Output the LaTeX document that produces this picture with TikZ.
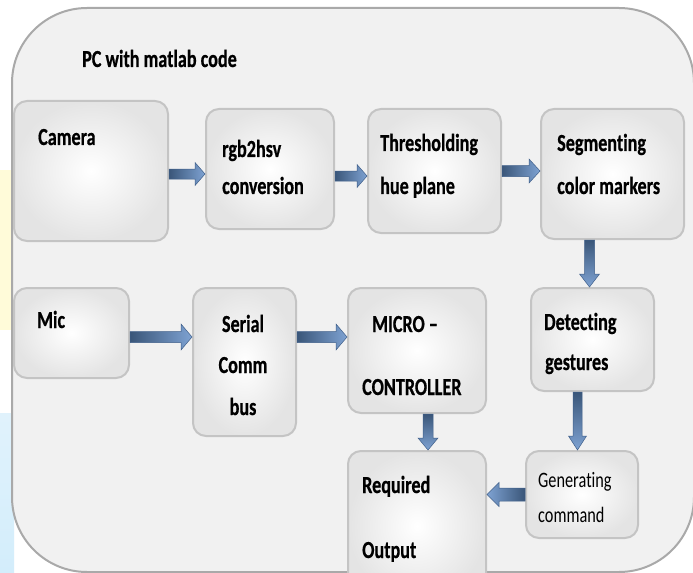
\documentclass[tikz,border=0pt]{standalone}
\usepackage{fontspec}
\setmainfont{Carlito}[FakeStretch=0.74, Ligatures={NoCommon}, BoldFeatures={FakeBold=0.6}]
\usetikzlibrary{calc}

\definecolor{framefill}{HTML}{F1F1F1}
\definecolor{frameline}{HTML}{A9A9A9}
\definecolor{boxline}{HTML}{C4C4C4}
\definecolor{boxouter}{HTML}{E4E4E4}
\definecolor{arrdark}{HTML}{3A5679}
\definecolor{arrlight}{HTML}{7EA2D2}
\definecolor{arredge}{HTML}{3F5F8A}
\definecolor{stripyellow}{HTML}{FFFBD9}
\definecolor{stripblue}{HTML}{D3EDFB}

% block arrow from #2 to #3; #1 = shading options, #4 = shaft half width,
% #5 = head half width, #6 = head length
\newcommand\blockarrow[6]{%
  \coordinate (ha) at ($(#3)!#6!(#2)$);
  \shadedraw[draw=arredge, line width=0.5bp, #1]
    ($(#2)!#4!90:(#3)$) -- ($(ha)!#4!-90:(#2)$) -- ($(ha)!#5!-90:(#2)$)
    -- (#3) -- ($(ha)!#5!90:(#2)$) -- ($(ha)!#4!90:(#2)$)
    -- ($(#2)!#4!-90:(#3)$) -- cycle;
}

\tikzset{
  stepbox/.style={draw=boxline, line width=2bp, rounded corners=13bp,
    inner color=white, outer color=boxouter, anchor=north west,
    inner sep=0pt},
  lbl/.style={font=\bfseries\fontsize{24.5bp}{28bp}\selectfont, text=black,
    inner sep=0pt, anchor=base west},
  lblsmall/.style={font=\fontsize{22bp}{26bp}\selectfont, text=black,
    inner sep=0pt, anchor=base west},
  toright/.style={left color=arrdark, right color=arrlight},
  toleft/.style={left color=arrlight, right color=arrdark},
  todown/.style={top color=arrdark, bottom color=arrlight},
}

\begin{document}
\begin{tikzpicture}[x=1bp, y=-1bp]
\clip (0,0) rectangle (693,573);
\fill[white] (0,0) rectangle (693,573);

% coloured strips at the left margin
\fill[stripyellow] (0,170) rectangle (14,330);
\shade[top color=stripblue!70, bottom color=stripblue] (0,413) rectangle (14,573);

% outer frame
\filldraw[fill=framefill, draw=frameline, line width=2bp, rounded corners=75bp]
  (12,8) rectangle (694,572);
\node[lbl] (title) at (82,67) {PC with matlab code};

% processing blocks
\node[stepbox, minimum width=154bp, minimum height=140bp] (cam) at (13,100) {};
\node[stepbox, minimum width=128bp, minimum height=120bp] (rgb) at (205,108) {};
\node[stepbox, minimum width=133bp, minimum height=124bp] (thr) at (367,108) {};
\node[stepbox, minimum width=143bp, minimum height=130bp] (seg) at (540,108) {};
\node[stepbox, minimum width=115bp, minimum height=90bp]  (mic) at (13,287) {};
\node[stepbox, minimum width=103bp, minimum height=148bp] (ser) at (192,287) {};
\node[stepbox, minimum width=138bp, minimum height=125bp] (mcu) at (347,287) {};
\node[stepbox, minimum width=123bp, minimum height=103bp] (det) at (530,287) {};
\node[stepbox, minimum width=138bp, minimum height=150bp] (req) at (347,450) {};
\node[stepbox, minimum width=112bp, minimum height=87bp]  (gen) at (525,450) {};

% block labels
\node[lbl] (camT) at (38,145) {Camera};
\node[lbl] (rgbT1) at (222,157) {rgb2hsv};
\node[lbl] (rgbT2) at (222,194) {conversion};
\node[lbl] (thrT1) at (380,151) {Thresholding};
\node[lbl] (thrT2) at (380,194) {hue plane};
\node[lbl] (segT1) at (557,151) {Segmenting};
\node[lbl] (segT2) at (557,194) {color markers};
\node[lbl] (micT) at (37,328) {Mic};
\node[lbl, anchor=base] (serT1) at (243,332) {Serial};
\node[lbl, anchor=base] (serT2) at (243,373) {Comm};
\node[lbl, anchor=base] (serT3) at (243,415) {bus};
\node[lbl] (mcuT1) at (372,332) {MICRO\,–};
\node[lbl] (mcuT2) at (362,395) {CONTROLLER};
\node[lbl] (detT1) at (544,330) {Detecting};
\node[lbl] (detT2) at (545,370) {gestures};
\node[lbl] (reqT1) at (362,493) {Required};
\node[lbl] (reqT2) at (362,558) {Output};
\node[lblsmall] (genT1) at (538,487) {Generating};
\node[lblsmall] (genT2) at (538,522) {command};

% connectors
\coordinate (e1) at ([yshift=-5bp]rgb.west);  \coordinate (s1) at (cam.east |- e1);
\blockarrow{toright}{s1}{e1}{5bp}{11.5bp}{10bp}
\coordinate (e2) at ([yshift=-5bp]thr.west);  \coordinate (s2) at (rgb.east |- e2);
\blockarrow{toright}{s2}{e2}{5bp}{11.5bp}{10bp}
\coordinate (e3) at (seg.west |- thr.west);   \coordinate (s3) at (thr.east);
\blockarrow{toright}{s3}{e3}{5.5bp}{12bp}{11bp}
\coordinate (s4) at ([xshift=-23bp]seg.south); \coordinate (e4) at (s4 |- det.north);
\blockarrow{todown}{s4}{e4}{5bp}{10bp}{13bp}
\coordinate (e5) at ([yshift=-4bp]ser.west |- mic.east); \coordinate (s5) at (mic.east |- e5);
\blockarrow{toright}{s5}{e5}{5.5bp}{13bp}{11bp}
\coordinate (s6) at (ser.east |- e5); \coordinate (e6) at (mcu.west |- e5);
\blockarrow{toright}{s6}{e6}{5.5bp}{13bp}{11bp}
\coordinate (s7) at ([xshift=11bp]mcu.south); \coordinate (e7) at (s7 |- req.north);
\blockarrow{todown}{s7}{e7}{5bp}{10bp}{12bp}
\coordinate (s8) at ([xshift=-15bp]det.south); \coordinate (e8) at (s8 |- gen.north);
\blockarrow{todown}{s8}{e8}{4.5bp}{9bp}{14bp}
\coordinate (s9) at (gen.west); \coordinate (e9) at (req.east |- gen.west);
\blockarrow{toleft}{s9}{e9}{6.5bp}{12bp}{12bp}
\end{tikzpicture}
\end{document}
